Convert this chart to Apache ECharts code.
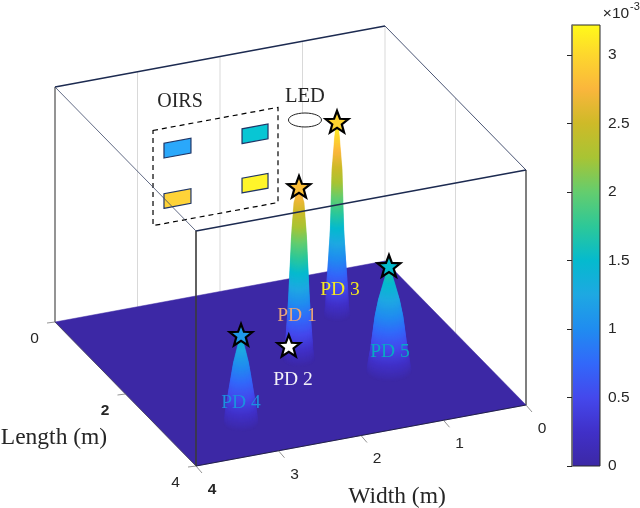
<!DOCTYPE html>
<html><head><meta charset="utf-8">
<style>html,body{margin:0;padding:0;background:#fff}#c{width:640px;height:508px}</style>
<script src="https://cdn.jsdelivr.net/npm/echarts@6/dist/echarts.min.js"></script>
</head><body><div id="c"></div>
<script>
// ---------- data ----------
const pdNames   = ['PD 1','PD 2','PD 3','PD 4','PD 5'];
const pdWidth   = [1.878,1.85,1.045,3.116,1.075];   // m
const pdLength  = [1.955,1.60,1.085,3.208,2.628];   // m
const pdPeak    = [2.87,0,3.22,1.47,1.75];          // x 10^-3
const pdStarVal = [2.82,null,2.97,1.12,1.5];
// cone profile: height level (x10^-3) and radius (m) at that level
const coneLevels = {
  'PD 1':[0,.17,.5,1.0,1.67,2.05,2.62,2.87],
  'PD 3':[0,.18,.43,.93,1.43,2.43,2.98,3.22],
  'PD 4':[0,.23,.68,1.02,1.47],
  'PD 5':[0,.2,.37,.92,1.2,1.75]
};
const coneRadii = {
  'PD 1':[.173,.156,.139,.117,.095,.084,.056,.011],
  'PD 3':[.145,.128,.12,.096,.075,.056,.028,.011],
  'PD 4':[.19,.173,.123,.084,.011],
  'PD 5':[.25,.228,.206,.156,.117,.011]
};
const coneOrder = ['PD 3','PD 1','PD 5','PD 4'];
// OIRS elements on the L=0 wall: width span and relative height span
const oirsWidthL  = [2.679,1.733,2.679,1.733];
const oirsWidthR  = [2.352,1.418,2.352,1.418];
const oirsHeightB = [.612,.612,.398,.402];
const oirsHeightT = [.675,.675,.46,.465];
const oirsColor   = ['#2aa8fb','#08c6d4','#fed338','#fff52a'];
const widthTicks  = [0,1,2,3,4];
const lengthTicks = [0,2,4];
const colorbarTicks = [0,0.5,1,1.5,2,2.5,3];
const colorbarMax = 3.22;
const ROOM_W = 4, ROOM_L = 4;

// ---------- scene projection (orthographic view of the room) ----------
const O = [385,261], VW = [-82.5,15.25], VL = [35.25,36], ZPX = 60, HPX = 235;
const proj = (w,l,z)=>[O[0]+w*VW[0]+l*VL[0], O[1]+w*VW[1]+l*VL[1]-z*ZPX];
const projH = (w,l,h)=>{const p=proj(w,l,0);return [p[0],p[1]-h*HPX];};

// ---------- colour map sampled from the colour bar ----------
const cmapV = [0,.25,.5,.75,1,1.25,1.5,1.75,2,2.25,2.5,2.75,3,3.22];
const cmapC = [[60,40,165],[64,48,200],[68,72,236],[50,104,250],[32,140,240],[30,168,226],[5,186,206],[45,200,152],[100,205,110],[168,196,52],[206,186,40],[250,182,60],[253,215,45],[255,250,25]];
function cmap(v){
  v=Math.max(0,Math.min(colorbarMax,v));
  let i=0; while(i<cmapV.length-2 && v>cmapV[i+1]) i++;
  const t=(v-cmapV[i])/(cmapV[i+1]-cmapV[i]);
  const c=cmapC[i].map((a,k)=>Math.round(a+(cmapC[i+1][k]-a)*t));
  return 'rgb('+c.join(',')+')';
}
const SANS='"Liberation Sans"', SERIF='"Liberation Serif"';
const INK='#262626', NAVY='#1c2a50';

const poly=(api,pts,style)=>({type:'polygon',shape:{points:pts.map(p=>api.coord(p))},style});
const line=(api,a,b,stroke,lineWidth,lineDash)=>{const p=api.coord(a),q=api.coord(b);
  return {type:'line',shape:{x1:p[0],y1:p[1],x2:q[0],y2:q[1]},style:{stroke,lineWidth,lineDash:lineDash||null,fill:null}};};
const txt=(api,p,text,font,fill,align)=>{const c=api.coord(p);
  return {type:'text',style:{x:c[0],y:c[1]+1.5,text,font,fill:fill||INK,align:align||'center',verticalAlign:'middle'}};};

const scene={coordinateSystem:'cartesian2d',xAxisIndex:0,yAxisIndex:0,silent:true,animation:false,clip:false};

// back-wall grid lines
const wallSeries=Object.assign({},scene,{type:'custom',z:1,
  data:widthTicks.map(w=>[w]),
  renderItem(p,api){const w=api.value(0);
    const kids=[line(api,projH(w,0,0),projH(w,0,1),'#d9d9d9',1)];
    if(w===0) lengthTicks.filter(l=>l>0&&l<ROOM_L).forEach(l=>kids.push(line(api,projH(0,l,0),projH(0,l,1),'#d9d9d9',1)));
    return {type:'group',children:kids};}
});
// back edges that lie behind the surface
const backEdges=Object.assign({},scene,{type:'custom',z:2,data:[[0]],
  renderItem(p,api){return {type:'group',children:[
    line(api,projH(ROOM_W,0,0),projH(ROOM_W,0,1),'#777',1.5),
    line(api,projH(0,ROOM_L,0),projH(0,ROOM_L,1),'#555',1.5),
    line(api,projH(0,0,1),projH(ROOM_W,0,1),NAVY,1.3),
    line(api,projH(0,0,1),projH(0,ROOM_L,1),NAVY,.8),
    line(api,projH(ROOM_W,0,1),projH(ROOM_W,ROOM_L,1),'#3a4566',.8)
  ]};}
});
// floor
const floorSeries=Object.assign({},scene,{type:'custom',z:3,data:[[0]],
  renderItem(p,api){return poly(api,[proj(0,0,0),proj(ROOM_W,0,0),proj(ROOM_W,ROOM_L,0),proj(0,ROOM_L,0)],{fill:cmap(0),stroke:cmap(0),lineWidth:.5});}
});
// peaks: one stack of level discs per PD, drawn bottom-up
const coneSeries=Object.assign({},scene,{type:'custom',z:4,
  data:coneOrder.map(n=>[pdNames.indexOf(n)]),
  renderItem(p,api){
    const i=api.value(0),name=pdNames[i],zs=coneLevels[name],rs=coneRadii[name],kids=[];
    for(let k=0;k<zs.length-1;k++){
      const n=Math.max(2,Math.ceil((zs[k+1]-zs[k])*ZPX));
      for(let s=0;s<n;s++){
        const t=s/n,z=zs[k]+(zs[k+1]-zs[k])*t,r=rs[k]+(rs[k+1]-rs[k])*t,pts=[];
        for(let a=0;a<36;a++){const th=a/36*2*Math.PI;
          pts.push(proj(pdWidth[i]+r*Math.cos(th),pdLength[i]+r*Math.sin(th),z));}
        const c=cmap(z);
        kids.push(poly(api,pts,{fill:c,stroke:c,lineWidth:.6}));
      }
    }
    return {type:'group',children:kids};
  }
});
// OIRS dashed frame and elements
const frameSeries=Object.assign({},scene,{type:'custom',z:2,data:[[0]],
  renderItem(p,api){return poly(api,[projH(2.812,0,.738),projH(1.297,0,.738),projH(1.297,0,.333),projH(2.812,0,.333)],
    {fill:null,stroke:'#000',lineWidth:1.2,lineDash:[5,4]});}
});
const oirsSeries=Object.assign({},scene,{type:'custom',z:2,
  data:oirsColor.map((v,i)=>[i]),
  renderItem(p,api){const i=api.value(0);
    return poly(api,[projH(oirsWidthL[i],0,oirsHeightB[i]),projH(oirsWidthR[i],0,oirsHeightB[i]),projH(oirsWidthR[i],0,oirsHeightT[i]),projH(oirsWidthL[i],0,oirsHeightT[i])],
      {fill:oirsColor[i],stroke:'#1f3566',lineWidth:1.2});}
});
// front edges in front of everything
const frontEdges=Object.assign({},scene,{type:'custom',z:6,data:[[0]],
  renderItem(p,api){
    const kids=[
      line(api,projH(ROOM_W,ROOM_L,1),projH(0,ROOM_L,1),NAVY,1.3),
      line(api,projH(ROOM_W,ROOM_L,0),projH(ROOM_W,ROOM_L,1),'#3a3a3a',1.6),
      line(api,proj(ROOM_W,ROOM_L,0),proj(0,ROOM_L,0),'#1a1a3a',.9),
      line(api,proj(ROOM_W,0,0),proj(ROOM_W,ROOM_L,0),'#444',.7)
    ];
    lengthTicks.forEach(l=>{const a=proj(ROOM_W,l,0);kids.push(line(api,a,[a[0]-8,a[1]+1],'#666',.7));});
    widthTicks.forEach(w=>{const a=proj(w,ROOM_L,0);kids.push(line(api,a,[a[0]+6,a[1]+7],'#666',.7));});
    return {type:'group',children:kids};
  }
});
// stars
const starSeries=Object.assign({},scene,{type:'custom',z:7,
  data:pdNames.map((n,i)=>[i]),
  renderItem(p,api){const i=api.value(0),c=proj(pdWidth[i],pdLength[i],pdPeak[i]),pts=[];
    for(let k=0;k<10;k++){const r=k%2?5:12,th=-Math.PI/2+k*Math.PI/5;
      pts.push([c[0]+r*Math.cos(th),c[1]+r*Math.sin(th)]);}
    return poly(api,pts,{fill:pdStarVal[i]===null?'#fff':cmap(pdStarVal[i]),stroke:'#000',lineWidth:2.2,lineJoin:'miter'});}
});
// text
const pdLabelColor=['#e8a67c','#f2f0f8','#f5ea20','#1c90e0','#08aac4'];
const pdLabelPos=[[297,314],[293,378],[340,288],[241,401],[390,350]];
const textSeries=Object.assign({},scene,{type:'custom',z:8,data:[[0]],
  renderItem(p,api){const kids=[];
    pdNames.forEach((n,i)=>kids.push(txt(api,pdLabelPos[i],n,'19.5px '+SERIF,pdLabelColor[i])));
    kids.push(txt(api,[180,100],'OIRS','20px '+SERIF));
    kids.push(txt(api,[305,95],'LED','20.5px '+SERIF));
    kids.push(txt(api,[54,436],'Length (m)','23.5px '+SERIF));
    kids.push(txt(api,[397,495],'Width (m)','23.5px '+SERIF));
    lengthTicks.forEach(l=>{const a=proj(ROOM_W,l,0);
      kids.push(txt(api,[a[0]-20.5,a[1]+15],String(l),(l===2?'bold ':'')+'15.5px '+SANS));});
    widthTicks.forEach(w=>{const a=proj(w,ROOM_L,0);
      kids.push(txt(api,[a[0]+16,a[1]+22],String(w),(w===4?'bold ':'')+'15.5px '+SANS));});
    kids.push(txt(api,[616,12],'×10','15.5px '+SANS));
    kids.push(txt(api,[635,5],'-3','11px '+SANS));
    return {type:'group',children:kids};
  }
});
// LED
const ledSeries=Object.assign({},scene,{type:'custom',z:5,data:[[0]],
  renderItem(p,api){const c=api.coord(projH(1.766,1.863,1));
    return {type:'ellipse',shape:{cx:c[0],cy:c[1],rx:16.5,ry:7},style:{fill:'#fff',stroke:'#222',lineWidth:1}};}
});
// colour bar
const barSeries={type:'custom',coordinateSystem:'cartesian2d',xAxisIndex:1,yAxisIndex:1,silent:true,animation:false,z:3,
  data:[[0,colorbarMax]],
  renderItem(p,api){
    const a=api.coord([0,api.value(0)]),b=api.coord([1,api.value(1)]);
    const stops=cmapV.map((v,i)=>({offset:v/colorbarMax,color:cmap(v)}));
    return {type:'rect',shape:{x:a[0],y:b[1],width:b[0]-a[0],height:a[1]-b[1]},
      style:{fill:new echarts.graphic.LinearGradient(0,1,0,0,stops),stroke:'#2a2a2a',lineWidth:1}};
  }
};

const chart=echarts.init(document.getElementById('c'),null,{renderer:'canvas'});
chart.setOption({
  animation:false,backgroundColor:'#fff',
  grid:[
    {left:0,top:0,width:640,height:508},
    {left:572,top:25,width:28,height:441}
  ],
  xAxis:[
    {type:'value',gridIndex:0,min:0,max:640,show:false},
    {type:'value',gridIndex:1,min:0,max:1,show:false}
  ],
  yAxis:[
    {type:'value',gridIndex:0,min:0,max:508,inverse:true,show:false},
    {type:'value',gridIndex:1,min:0,max:colorbarMax,interval:0.5,position:'right',z:5,
     splitLine:{show:false},
     axisLine:{show:true,lineStyle:{color:'#777',width:1.5}},
     axisTick:{show:true,inside:true,length:5,lineStyle:{color:'#262626',width:1}},
     axisLabel:{margin:8,color:INK,fontFamily:SANS,fontSize:15.5,showMaxLabel:false,
       formatter:v=>colorbarTicks.includes(v)?String(v):''}}
  ],
  series:[wallSeries,frameSeries,oirsSeries,backEdges,floorSeries,coneSeries,ledSeries,frontEdges,starSeries,textSeries,barSeries]
});
</script></body></html>
